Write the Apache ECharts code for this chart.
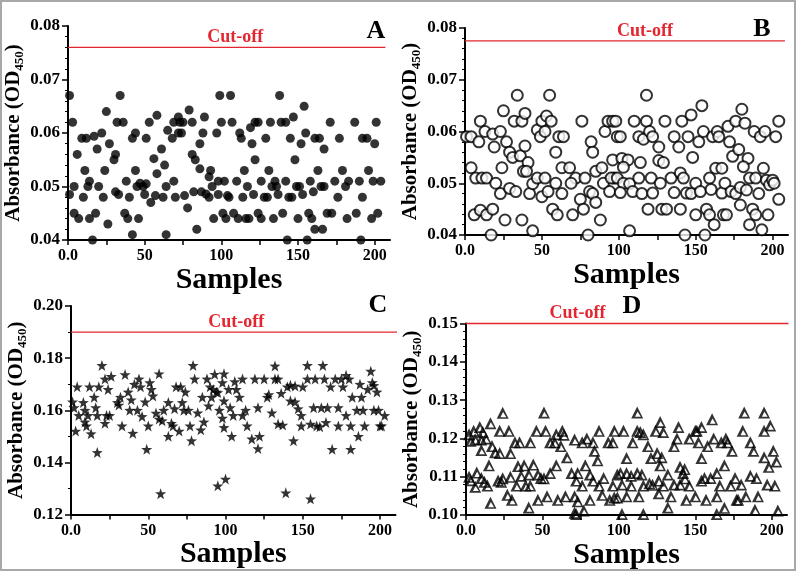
<!DOCTYPE html>
<html><head><meta charset="utf-8">
<script src="https://cdn.jsdelivr.net/npm/echarts@6/dist/echarts.min.js"></script>
<style>html,body{margin:0;padding:0;background:#fff}#c{width:796px;height:571px}</style>
</head><body><div id="c"></div>
<script>
// ---------- DATA ----------
const sampleA=[1,3,1,4,6,4,7,9,12,11,10,13,14,16,14,17,19,18,20,22,23,25,24,26,27,30,31,32,34,31,33,36,37,38,39,40,42,42,44,44,46,45,47,49,50,51,51,53,54,57,56,58,58,61,62,64,63,65,64,68,69,69,70,72,73,72,74,75,76,78,79,81,81,82,84,83,86,86,87,89,88,90,92,92,93,94,95,97,99,100,98,101,
106,107,98,102,110,104,105,103,108,111,116,118,112,113,115,117,114,120,119,122,124,122,121,124,126,126,128,130,131,129,132,134,135,133,136,137,138,139,142,140,142,143,144,146,145,147,148,149,150,151,152,154,153,155,156,158,157,159,160,161,166,161,164,163,165,167,167,169,172,171,174,176,177,179,181,182,183,187,188,190,192,191,192,195,196,199,201,200,198,202,204];
const valueA=[0.067,0.062,0.0485,0.050,0.056,0.045,0.044,0.059,0.059,0.053,0.048,0.050,0.051,0.040,0.044,0.0594,0.057,0.045,0.050,0.060,0.048,0.064,0.053,0.043,0.058,0.055,0.056,0.062,0.067,0.049,0.0485,0.062,0.045,0.051,0.044,0.048,0.041,0.059,0.060,0.053,0.044,0.050,0.0506,0.050,0.0485,0.0505,0.059,0.062,0.047,0.0483,0.0552,0.0524,0.0633,0.057,0.048,0.041,0.054,0.0605,0.050,0.059,0.062,0.051,0.048,0.063,0.062,0.060,0.060,0.062,0.0483,0.046,0.0643,0.062,0.056,0.049,0.042,0.055,0.058,0.0533,0.049,0.063,0.060,0.0486,0.048,0.0518,0.053,0.050,0.044,0.060,0.067,0.062,0.0485,0.045,
0.067,0.062,0.051,0.051,0.051,0.0483,0.048,0.044,0.045,0.044,0.044,0.044,0.060,0.059,0.053,0.050,0.048,0.058,0.061,0.062,0.062,0.055,0.0485,0.045,0.044,0.051,0.048,0.048,0.053,0.059,0.062,0.044,0.051,0.050,0.050,0.0485,0.067,0.062,0.062,0.045,0.051,0.040,0.048,0.048,0.059,0.063,0.055,0.050,0.044,0.050,0.058,0.065,0.0485,0.060,0.040,0.051,0.045,0.044,0.049,0.042,0.042,0.059,0.059,0.053,0.050,0.050,0.057,0.045,0.045,0.062,0.051,0.048,0.059,0.053,0.050,0.044,0.051,0.062,0.045,0.051,0.048,0.040,0.059,0.059,0.053,0.051,0.062,0.058,0.044,0.045,0.051];

const sampleB=[1,4,9,10,13,18,19,23,27,25,29,31,34,32,37,39,36,39,41,38,40,4,7,11,14,20,24,23,29,33,42,44,47,50,52,54,59,6,10,14,18,26,37,44,17,47,49,50,53,55,56,52,59,61,64,63,68,57,60,63,70,72,69,76,75,77,78,80,82,83,81,83,85,88,85,89,91,93,96,90,94,96,97,99,
98,101,110,118,118,113,116,120,122,126,130,136,139,141,147,145,152,154,155,161,164,165,171,172,176,180,182,188,192,195,202,204,102,106,103,114,126,129,148,163,167,174,178,184,181,194,95,99,103,107,101,109,113,115,121,122,127,134,136,140,142,144,147,150,153,159,160,167,169,173,176,179,183,185,189,191,196,198,200,201,204,119,128,131,140,150,157,159,162,168,170,179,187,189,197,185,193,107,143,156];
const valueB=[0.059,0.059,0.058,0.062,0.060,0.0595,0.057,0.060,0.058,0.064,0.056,0.055,0.067,0.062,0.062,0.0635,0.0553,0.0572,0.054,0.0523,0.0523,0.053,0.051,0.051,0.051,0.050,0.053,0.048,0.049,0.0484,0.048,0.0499,0.051,0.0474,0.051,0.0484,0.050,0.0439,0.0448,0.0439,0.045,0.0429,0.0429,0.0408,0.040,0.0603,0.059,0.062,0.063,0.067,0.062,0.060,0.056,0.059,0.059,0.053,0.053,0.045,0.0439,0.048,0.0439,0.051,0.050,0.062,0.0469,0.045,0.051,0.040,0.058,0.056,0.0484,0.048,0.0463,0.0429,0.0523,0.053,0.060,0.062,0.062,0.050,0.0484,0.0545,0.051,0.059,
0.062,0.059,0.062,0.067,0.062,0.059,0.0585,0.060,0.059,0.057,0.062,0.059,0.057,0.062,0.0632,0.059,0.058,0.065,0.060,0.059,0.060,0.059,0.061,0.058,0.062,0.0643,0.0616,0.060,0.059,0.060,0.059,0.062,0.0548,0.0545,0.0531,0.054,0.0544,0.054,0.055,0.0529,0.0529,0.0552,0.0565,0.0548,0.0532,0.0529,0.051,0.051,0.050,0.0499,0.0482,0.0484,0.051,0.048,0.051,0.0481,0.050,0.051,0.0482,0.052,0.051,0.0481,0.048,0.050,0.0484,0.051,0.0488,0.0481,0.050,0.0484,0.048,0.0492,0.0487,0.051,0.051,0.048,0.0506,0.0497,0.0506,0.050,0.0469,0.045,0.045,0.045,0.045,0.0439,0.045,0.0439,0.042,0.0439,0.0439,0.0458,0.045,0.0439,0.0439,0.042,0.041,0.0408,0.040,0.040];

const sampleC=[1,2,4,3,5,8,9,9,10,11,12,13,15,16,17,17,18,20,22,23,22,24,25,26,30,31,32,33,35,37,38,39,40,41,43,44,45,46,48,49,50,51,52,53,55,57,58,57,59,60,63,63,65,66,67,68,70,71,72,73,74,76,77,78,79,80,82,84,85,86,88,89,90,91,92,93,94,95,96,98,98,99,99,100,
95,99,102,103,106,107,105,109,111,111,113,104,117,119,121,122,121,114,125,127,128,130,132,132,134,134,136,137,139,140,142,142,145,145,144,147,149,150,149,153,153,155,155,157,158,159,161,162,163,164,165,166,168,169,171,173,173,175,176,178,178,180,181,181,182,185,186,188,187,189,190,192,194,195,196,198,196,199,200,203,201];
const valueC=[0.1632,0.161,0.169,0.152,0.158,0.163,0.160,0.1555,0.154,0.158,0.169,0.151,0.165,0.161,0.1438,0.158,0.169,0.1772,0.172,0.158,0.155,0.168,0.158,0.173,0.163,0.162,0.165,0.154,0.1737,0.167,0.160,0.164,0.1512,0.170,0.160,0.172,0.169,0.1576,0.1632,0.145,0.154,0.1706,0.168,0.1655,0.1589,0.174,0.128,0.1566,0.156,0.160,0.163,0.150,0.155,0.154,0.1606,0.169,0.152,0.169,0.163,0.160,0.167,0.160,0.154,0.1483,0.1772,0.172,0.159,0.1525,0.165,0.1555,0.172,0.1617,0.169,0.165,0.168,0.1738,0.167,0.131,0.160,0.157,0.1706,0.174,0.1534,0.1336,
0.1668,0.1636,0.168,0.161,0.171,0.168,0.158,0.165,0.158,0.172,0.160,0.150,0.149,0.172,0.161,0.150,0.1453,0.154,0.172,0.165,0.166,0.159,0.177,0.172,0.172,0.1547,0.1665,0.1543,0.1283,0.169,0.1636,0.1696,0.1693,0.1632,0.1483,0.1606,0.158,0.169,0.154,0.1772,0.172,0.126,0.1547,0.161,0.172,0.154,0.1537,0.161,0.1772,0.172,0.1553,0.161,0.169,0.145,0.172,0.161,0.154,0.172,0.169,0.158,0.1734,0.172,0.154,0.145,0.165,0.160,0.150,0.165,0.170,0.160,0.154,0.168,0.175,0.1706,0.1695,0.167,0.160,0.160,0.154,0.158,0.154];

const sampleD=[2,3,5,6,9,10,11,13,16,10,17,19,22,22,24,28,29,32,35,42,46,51,52,55,58,59,63,64,62,66,71,76,79,83,84,87,93,97,86,
2,3,6,7,10,12,14,15,21,23,24,29,33,34,38,36,39,41,42,44,47,49,51,55,59,69,72,73,76,78,81,83,87,90,96,99,
16,27,30,41,47,53,60,65,71,71,73,77,81,89,94,97,72,
112,182,195,103,112,114,116,124,127,129,139,138,146,150,151,154,161,162,152,158,167,170,171,174,181,186,188,195,199,201,195,203,96,109,119,136,125,121,128,105,154,169,198,140,127,142,143,143,
101,105,108,112,115,120,126,132,136,140,146,154,156,160,164,166,173,176,180,186,190,197,202,102,108,116,122,129,
99,105,113,126,134,144,150,157,164,169,177,178,183,191,132,189,204,102,116,164];
const valueD=[0.1211,0.1194,0.122,0.1198,0.123,0.1197,0.1217,0.120,0.124,0.117,0.118,0.1164,0.1162,0.122,0.1267,0.122,0.1162,0.119,0.119,0.119,0.122,0.1268,0.122,0.119,0.119,0.1211,0.122,0.121,0.118,0.1151,0.1197,0.119,0.120,0.119,0.1168,0.122,0.119,0.122,0.1143,
0.110,0.1091,0.1074,0.1111,0.1097,0.1087,0.1077,0.113,0.109,0.1087,0.1096,0.110,0.1077,0.1128,0.113,0.1103,0.1077,0.1106,0.1077,0.1132,0.1106,0.1097,0.1096,0.111,0.113,0.111,0.109,0.111,0.1077,0.113,0.1106,0.109,0.1077,0.1097,0.1077,0.1106,
0.1032,0.1053,0.104,0.102,0.104,0.1049,0.104,0.1049,0.1049,0.1006,0.1036,0.1012,0.104,0.1053,0.104,0.1046,0.1003,
0.1268,0.1268,0.1268,0.122,0.122,0.1217,0.1211,0.122,0.1243,0.1217,0.123,0.120,0.120,0.122,0.122,0.123,0.125,0.120,0.119,0.118,0.119,0.120,0.119,0.1168,0.122,0.119,0.1168,0.122,0.1234,0.1168,0.1151,0.114,0.119,0.119,0.118,0.118,0.1162,0.1149,0.1151,0.1149,0.1149,0.113,0.1126,0.1126,0.113,0.111,0.112,0.1096,
0.111,0.111,0.1103,0.111,0.1106,0.1083,0.109,0.1106,0.108,0.108,0.1077,0.109,0.1097,0.1097,0.111,0.1077,0.1077,0.1097,0.108,0.1103,0.1097,0.108,0.1077,0.108,0.1077,0.1077,0.1079,0.1077,
0.1046,0.1049,0.1049,0.1057,0.1049,0.104,0.1049,0.104,0.1049,0.1019,0.104,0.104,0.1049,0.1049,0.102,0.1014,0.1012,0.1003,0.1003,0.1003];

const panelLetters=['A','B','C','D'];
const cutoffValues=[0.076,0.0775,0.19,0.15];
const cutoffStart=[0,0,0,0];
const cutoffEnd=[207,208,212,211];
const cutoffLabelAt=[109,117,107,73];   // sample position of the "Cut-off" text
const xTickValues=[0,25,50,75,100,125,150,175,200];
const xLabelValues=[0,50,100,150,200];
const yRanges=[[0.04,0.08,0.01,5],[0.04,0.08,0.01,5],[0.12,0.20,0.02,2],[0.10,0.15,0.01,5]];

// ---------- STYLE / LAYOUT ----------
const FONT='"Liberation Serif","Times New Roman",serif';
const grids=[
  {left:68,top:26,width:322,height:214},
  {left:465,top:28,width:323,height:207},
  {left:71,top:306,width:324.5,height:208.5},
  {left:466,top:323.5,width:321,height:193}
];
const starPath='path://M50 0 L61.76 33.82 L97.55 34.55 L69.02 56.18 L79.39 90.45 L50 70 L20.61 90.45 L30.98 56.18 L2.45 34.55 L38.24 33.82 Z';
const triPath='path://M6 0 L12 11 L0 11 Z M6.4 4.8 L3.8 9.5 L9.6 9.5 Z';
const RED='#e3262f';

const samples=[sampleA,sampleB,sampleC,sampleD];
const values=[valueA,valueB,valueC,valueD];
const symbols=[
  {symbol:'circle',symbolSize:9,itemStyle:{color:'#000'}},
  {symbol:'emptyCircle',symbolSize:11,itemStyle:{color:'#000',borderColor:'#000',borderWidth:1.9}},
  {symbol:starPath,symbolSize:11,itemStyle:{color:'#000'}},
  {symbol:triPath,symbolSize:12,itemStyle:{color:'#000'}}
];

const xAxes=grids.map((g,i)=>({
  type:'value',gridIndex:i,min:0,max:210,
  axisLine:{show:true,lineStyle:{color:'#000',width:2}},
  axisTick:{show:true,length:5,lineStyle:{color:'#000',width:1.5},customValues:xTickValues},
  axisLabel:{customValues:xLabelValues,margin:8,color:'#000',fontFamily:FONT,fontWeight:'bold',fontSize:16,
    formatter:v=>v===0?'0.0':String(v)},
  splitLine:{show:false},
  name:'Samples',nameLocation:'middle',nameGap:13,
  nameTextStyle:{color:'#000',fontFamily:FONT,fontWeight:'bold',fontSize:30}
}));
const yAxes=grids.map((g,i)=>{
  const r=yRanges[i];
  return {
    type:'value',gridIndex:i,min:r[0],max:r[1],interval:r[2],
    axisLine:{show:true,lineStyle:{color:'#000',width:2}},
    axisTick:{show:true,length:6,lineStyle:{color:'#000',width:1.5}},
    minorTick:{show:true,splitNumber:r[3],length:3,lineStyle:{color:'#000',width:1}},
    axisLabel:{margin:8,color:'#000',fontFamily:FONT,fontWeight:'bold',fontSize:17,formatter:v=>v.toFixed(2)},
    splitLine:{show:false},
    name:'{b|Absorbance (OD}{s|450}{b|)}',nameLocation:'middle',nameRotate:90,nameGap:34,
    nameTextStyle:{color:'#000',fontFamily:FONT,fontWeight:'bold',fontSize:21,
      rich:{b:{fontFamily:FONT,fontWeight:'bold',fontSize:21,lineHeight:25,verticalAlign:'middle'},
            s:{fontFamily:FONT,fontWeight:'bold',fontSize:13,lineHeight:25,verticalAlign:'bottom'}}}
  };
});
const series=[];
grids.forEach((g,i)=>{
  series.push(Object.assign({
    type:'scatter',xAxisIndex:i,yAxisIndex:i,clip:false,z:3,
    data:samples[i].map((s,k)=>[s,values[i][k]])
  },symbols[i]));
  series.push({
    type:'line',xAxisIndex:i,yAxisIndex:i,clip:false,z:2,silent:true,symbol:'none',
    lineStyle:{color:RED,width:1.3,type:'solid'},
    data:[[cutoffStart[i],cutoffValues[i]],[cutoffEnd[i],cutoffValues[i]]]
  });
});

const letterPos=[[376,31],[762,29],[378,305],[632,306]];
function baseGraphics(){
  const gs=[{type:'rect',shape:{x:1,y:1,width:794,height:569},style:{fill:'none',stroke:'#a8a8a8',lineWidth:2},silent:true}];
  letterPos.forEach((p,i)=>gs.push({type:'text',x:p[0],y:p[1],style:{text:panelLetters[i],font:'bold 26px '+FONT,fill:'#000',align:'center',verticalAlign:'middle'}}));
  return gs;
}

const chart=echarts.init(document.getElementById('c'),null,{renderer:'canvas'});
chart.setOption({animation:false,backgroundColor:'#fff',grid:grids,xAxis:xAxes,yAxis:yAxes,series:series,graphic:baseGraphics()});
const gs=baseGraphics();
cutoffValues.forEach((v,i)=>{
  const p=chart.convertToPixel({xAxisIndex:i,yAxisIndex:i},[cutoffLabelAt[i],v]);
  gs.push({type:'text',x:p[0],y:p[1]-10,style:{text:'Cut-off',font:'bold 18px '+FONT,fill:RED,align:'center',verticalAlign:'middle'}});
});
chart.setOption({graphic:gs},{replaceMerge:['graphic']});
</script></body></html>
